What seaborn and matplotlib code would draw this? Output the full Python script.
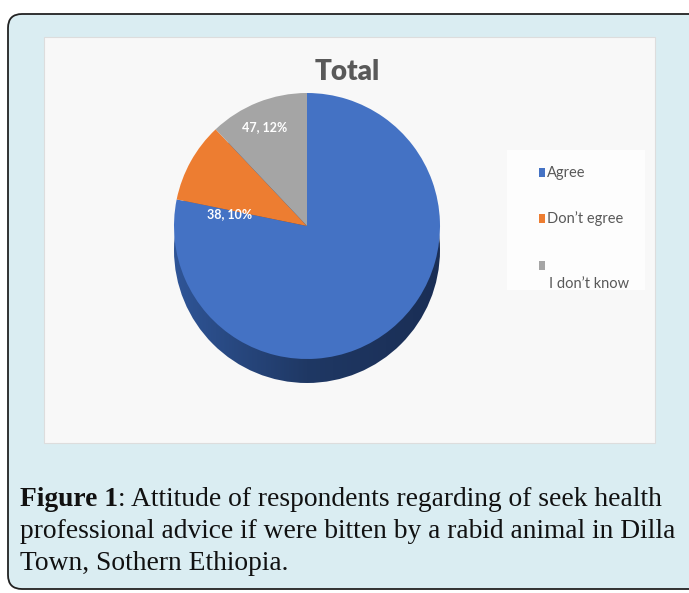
import numpy as np
import matplotlib
matplotlib.use("Agg")
import matplotlib.pyplot as plt
import seaborn as sns
from matplotlib.patches import FancyBboxPatch, Rectangle, Circle
from matplotlib.colors import LinearSegmentedColormap

sns.set_theme(style="white")

categories = ["Agree", "Don\u2019t egree", "I don\u2019t know"]
counts = [305, 38, 47]
label_texts = ["", "38, 10%", "47, 12%"]
colors = ["#4472c4", "#ed7d31", "#a5a5a5"]

SANS = ["Lato", "DejaVu Sans"]
SERIF = ["Liberation Serif", "DejaVu Serif"]

W, H = 689, 593
fig = plt.figure(figsize=(W / 100, H / 100), dpi=100)
fig.patch.set_facecolor("white")

# background layer in pixel coords
bg = fig.add_axes([0, 0, 1, 1])
bg.set_xlim(0, W)
bg.set_ylim(H, 0)
bg.axis("off")
bg.add_patch(FancyBboxPatch((8, 14), 720, 575, boxstyle="round,pad=0,rounding_size=14",
                            facecolor="#daedf2", edgecolor="#222222", linewidth=1.3))
bg.add_patch(Rectangle((44, 37), 611, 406, facecolor="#f8f8f8", edgecolor="#dddddd", linewidth=0.8))
bg.add_patch(Rectangle((507, 150), 138, 140, facecolor="#fdfdfd", edgecolor="none"))

bg.text(347, 72, "Total", ha="center", va="center", fontsize=20, fontweight="heavy",
        color="#595959", family=SANS)

# legend drawn by hand (third label sits under its marker)
leg_y = [173, 219, 266]
for cat, col, y in zip(categories, colors, leg_y):
    bg.add_patch(Rectangle((539, y - 5), 6, 9, facecolor=col, edgecolor="none"))
    if cat.startswith("I "):
        bg.text(549, y + 18, cat, ha="left", va="center", fontsize=10.5, color="#595959",
                family=SANS)
    else:
        bg.text(547, y, cat, ha="left", va="center", fontsize=10.5, color="#595959",
                family=SANS)

caption = [
    [("Figure 1", "bold"), (": Attitude of respondents regarding of seek health", "normal")],
    [("professional advice if were bitten by a rabid animal in Dilla", "normal")],
    [("Town, Sothern Ethiopia.", "normal")],
]
cap_y = [500, 532, 563]
for parts, y in zip(caption, cap_y):
    x = 20
    for txt, wt in parts:
        t = bg.text(x, y, txt, ha="left", va="center", fontsize=19.8, fontweight=wt,
                    color="#111111", family=SERIF)
        fig.canvas.draw()
        bb = t.get_window_extent()
        x += bb.width

# pie axes: centre at (307, 226) px, radius 133 px
cx, cy, r = 307, 226, 133
left, right, top, bottom = 160, 454, 80, 400
ax = fig.add_axes([left / W, 1 - bottom / H, (right - left) / W, (bottom - top) / H])
depth = 24 / r

# side of the disc (dark gradient)
grad = np.linspace(0, 1, 256).reshape(1, -1)
cmap = LinearSegmentedColormap.from_list("side", ["#2f5597", "#1f3864", "#1a2e55"])
im = ax.imshow(grad, extent=[-1, 1, -1 - depth, 1], cmap=cmap, aspect="auto", zorder=1)
clip = Circle((0, -depth), 1, transform=ax.transData)
im.set_clip_path(clip)

wedges, _ = ax.pie(counts, colors=colors, startangle=90, counterclock=False,
                   wedgeprops=dict(linewidth=0, zorder=2))
for w in wedges:
    w.set_zorder(2)

ax.text((230 - cx) / r, (cy - 214) / r, label_texts[1], ha="center", va="center",
        fontsize=9, fontweight="bold", color="white", zorder=3, family=SANS)
ax.text((265 - cx) / r, (cy - 127) / r, label_texts[2], ha="center", va="center",
        fontsize=9, fontweight="bold", color="white", zorder=3, family=SANS)

ax.set_aspect("auto")
ax.set_xlim(-(cx - left) / r, (right - cx) / r)
ax.set_ylim(-(bottom - cy) / r, (cy - top) / r)
ax.axis("off")

fig.savefig("out.png", dpi=100)
